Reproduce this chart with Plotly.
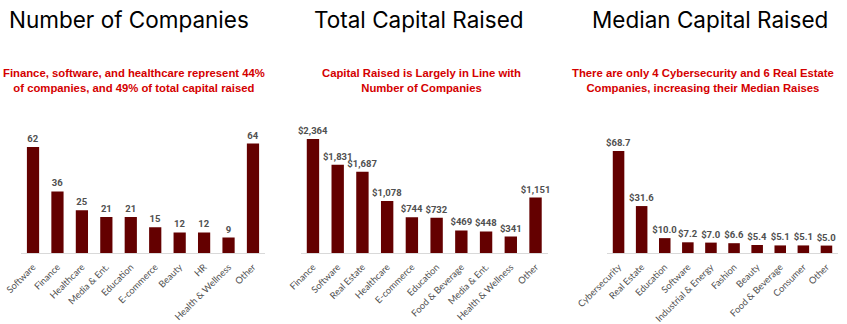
import plotly.graph_objects as go

# ---- data ----
cats1 = ["Software", "Finance", "Healthcare", "Media & Ent.", "Education",
         "E-commerce", "Beauty", "HR", "Health & Wellness", "Other"]
vals1 = [62, 36, 25, 21, 21, 15, 12, 12, 9, 64]

cats2 = ["Finance", "Software", "Real Estate", "Healthcare", "E-commerce",
         "Education", "Food & Beverage", "Media & Ent.", "Health & Wellness", "Other"]
vals2 = [2364, 1831, 1687, 1078, 744, 732, 469, 448, 341, 1151]

cats3 = ["Cybersecurity", "Real Estate", "Education", "Software", "Industrial & Energy",
         "Fashion", "Beauty", "Food & Beverage", "Consumer", "Other"]
vals3 = [68.7, 31.6, 10.0, 7.2, 7.0, 6.6, 5.4, 5.1, 5.1, 5.0]

titles = ["Number of Companies", "Total Capital Raised", "Median Capital Raised"]
subtitles = [
    "Finance, software, and healthcare represent 44%<br>of companies, and 49% of total capital raised",
    "Capital Raised is Largely in Line with<br>Number of Companies",
    "There are only 4 Cybersecurity and 6 Real Estate<br>Companies, increasing their Median Raises",
]

W, H = 847, 324
TOP, BOT = 130, 253
BAR = "#640000"
GRAY = "#505050"

def py(ypix):
    return (BOT - ypix) / (BOT - TOP)

fig = go.Figure()

labels1 = ["<b>{}</b>".format(v) for v in vals1]
labels2 = ["<b>${:,}</b>".format(v) for v in vals2]
labels3 = ["<b>${:.1f}</b>".format(v) for v in vals3]

panels = [
    (cats1, vals1, labels1, "x", "y", (20.8, 265.2), 71.9),
    (cats2, vals2, labels2, "x2", "y2", (300.6, 547.9), 2551),
    (cats3, vals3, labels3, "x3", "y3", (607.0, 838.0), 82.8),
]

for i, (c, v, lab, xa, ya, dom, ymax) in enumerate(panels):
    fig.add_trace(go.Bar(
        x=c, y=v, text=lab, textposition="outside", cliponaxis=False,
        constraintext="none",
        marker=dict(color=BAR, line=dict(width=0)),
        textfont=dict(family="Roboto", size=9.5, color=GRAY),
        xaxis=xa, yaxis=ya, showlegend=False, hoverinfo="skip",
    ))
    sfx = "" if i == 0 else str(i + 1)
    fig.layout["xaxis" + sfx] = dict(
        domain=[dom[0] / W, dom[1] / W], anchor="y" + sfx,
        showline=True, linecolor="#d9d9d9", linewidth=1,
        showgrid=False, zeroline=False, ticks="", automargin=False,
        tickangle=-45, ticklabelstandoff=4,
        tickfont=dict(family="Lato", size=9.3, color=GRAY),
        fixedrange=True,
    )
    fig.layout["yaxis" + sfx] = dict(
        domain=[0, 1], anchor="x" + sfx, range=[0, ymax], automargin=False,
        visible=False, showgrid=False, zeroline=False, fixedrange=True,
    )

title_x = [129, 419, 710]
sub_x = [134, 421, 703]
for i in range(3):
    fig.add_annotation(
        x=title_x[i] / W, y=py(19), xref="paper", yref="paper",
        xanchor="center", yanchor="middle", showarrow=False,
        text=titles[i], font=dict(family="Inter", size=22.5, color="#000000"),
    )
    fig.add_annotation(
        x=sub_x[i] / W, y=py(80.5), xref="paper", yref="paper",
        xanchor="center", yanchor="middle", showarrow=False, align="center",
        text="<b>" + subtitles[i] + "</b>",
        font=dict(family="Liberation Sans", size=11.3, color="#d40000"),
    )

fig.update_layout(
    width=W, height=H,
    margin=dict(l=0, r=0, t=TOP, b=H - BOT, autoexpand=False),
    paper_bgcolor="white", plot_bgcolor="white",
    bargap=0.5,
)

fig.write_html("out.html")
